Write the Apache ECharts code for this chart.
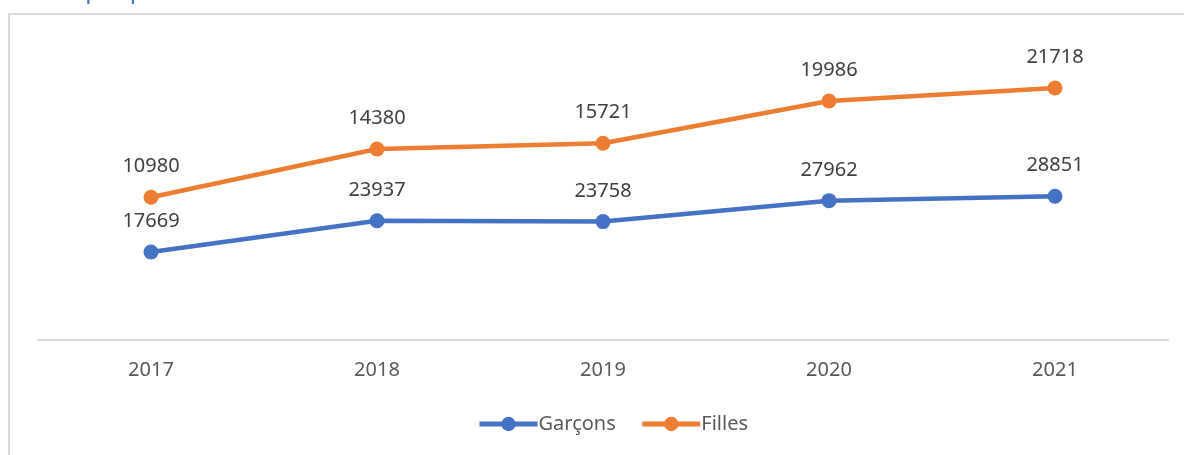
<!DOCTYPE html>
<html>
<head>
<meta charset="utf-8">
<script src="https://cdn.jsdelivr.net/npm/echarts@6/dist/echarts.min.js"></script>
<style>
  html, body { margin: 0; padding: 0; background: #fff; }
  #frame { position: absolute; left: 8px; top: 13px; width: 1200px; height: 460px; border: 2px solid #d9d9d9; box-sizing: border-box; }
  #chart { position: absolute; left: 0; top: 0; width: 1184px; height: 455px; }
</style>
</head>
<body>
<div id="frame"></div>
<div id="chart"></div>
<script>
// données (empilé)
var years = ['2017', '2018', '2019', '2020', '2021'];
var garcons = [17669, 23937, 23758, 27962, 28851];
var filles = [10980, 14380, 15721, 19986, 21718];

var myChart = echarts.init(document.getElementById('chart'), null, { renderer: 'canvas' });
var font = "'Noto Sans', 'Open Sans', sans-serif";

function serie(name, data, color) {
    return {
        name: name,
        type: 'line',
        stack: 'total',
        data: data,
        symbol: 'circle',
        symbolSize: 15,
        lineStyle: { width: 4.5, color: color },
        itemStyle: { color: color },
        label: {
            show: true,
            position: 'top',
            distance: 13,
            color: '#404040',
            fontSize: 20,
            fontFamily: font
        },
        emphasis: { disabled: true },
        animation: false
    };
}

var option = {
    title: {
        text: 'Graphique',
        left: 40,
        top: -26,
        textStyle: { color: '#4472C4', fontSize: 24, fontWeight: 'normal', fontFamily: font }
    },
    color: ['#4472C4', '#ED7D31'],
    grid: { left: 38, right: 16, top: 41, bottom: 115 },
    legend: {
        bottom: 16,
        left: 472,
        itemWidth: 58,
        itemHeight: 18,
        itemGap: 24,
        lineStyle: { width: 5 },
        textStyle: { color: '#595959', fontSize: 20, fontFamily: font, padding: [0, 0, 0, -4] },
        data: ['Garçons', 'Filles']
    },
    xAxis: {
        type: 'category',
        data: years,
        boundaryGap: true,
        axisLine: { lineStyle: { color: '#d9d9d9', width: 2 } },
        axisTick: { show: false },
        axisLabel: { color: '#595959', fontSize: 20, fontFamily: font, margin: 20 }
    },
    yAxis: {
        type: 'value',
        min: 0,
        max: 60000,
        show: false,
        splitLine: { show: false }
    },
    series: [
        serie('Garçons', garcons, '#4472C4'),
        serie('Filles', filles, '#ED7D31')
    ]
};
myChart.setOption(option);
</script>
</body>
</html>
